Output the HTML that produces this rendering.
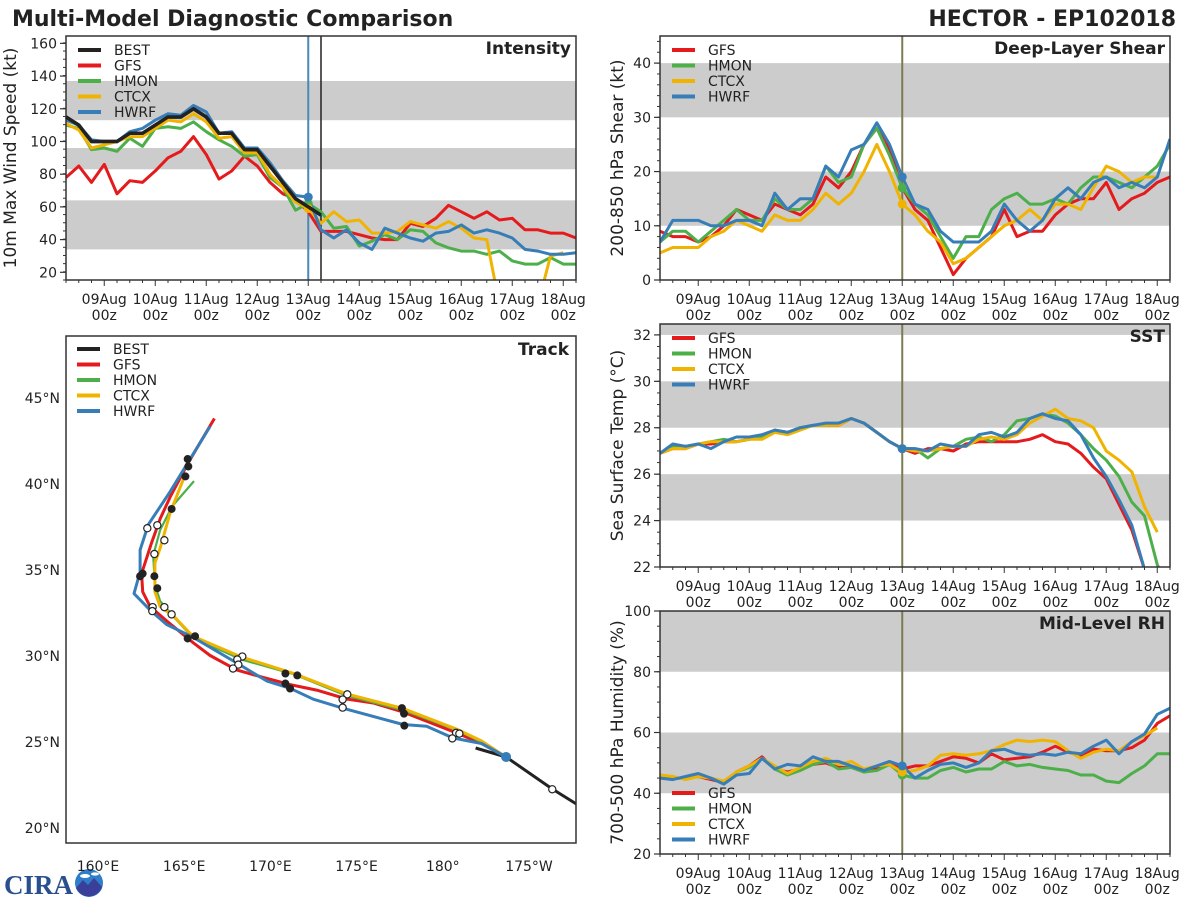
<!DOCTYPE html>
<html><head><meta charset="utf-8"><style>
html,body{margin:0;padding:0;background:#fff;}
svg{display:block;font-family:"DejaVu Sans","Liberation Sans",sans-serif;}
</style></head><body>
<svg id="chart" width="1200" height="900" viewBox="0 0 1200 900" xmlns="http://www.w3.org/2000/svg">
<rect x="0" y="0" width="1200" height="900" fill="#fff"/>
<text x="12" y="26" font-size="22" font-weight="bold" fill="#222">Multi-Model Diagnostic Comparison</text>
<text x="1176" y="26" font-size="22" font-weight="bold" fill="#222" text-anchor="end">HECTOR - EP102018</text>
<g>
<text x="4" y="894" font-size="27" font-weight="bold" fill="#2a4f8f" font-family="Liberation Serif, serif">CIRA</text>
<circle cx="89" cy="883" r="14" fill="#2f7ec9"/>
<path d="M76,888 L83,880 L88,885 L94,878 L102,887 A14,14 0 0 1 76,888 Z" fill="#3a3f9a"/>
<ellipse cx="85" cy="876" rx="5" ry="2" fill="#fff"/><ellipse cx="95" cy="874" rx="4" ry="1.6" fill="#fff"/>
</g>
</svg>
<script>
const dayLabels = ['09Aug','10Aug','11Aug','12Aug','13Aug','14Aug','15Aug','16Aug','17Aug','18Aug'];
const hourLabel = '00z';
const bestInt = [115,110,100,100,100,105,105,110,115,115,120,115,105,105,95,95,85,75,65,60,55];
const gfsInt = [78,85,75,86,68,76,75,82,90,94,103,92,77,82,91,85,75,68,65,57,45,45,45,43,41,40,40,50,48,53,61,57,53,57,52,53,46,46,44,44,41];
const hmonInt = [110,108,95,96,94,102,97,108,109,108,112,106,101,97,91,92,78,72,58,62,57,47,48,36,39,43,40,46,45,38,35,33,33,31,33,27,25,25,29,25,25];
const ctcxInt = [111,107,96,98,100,103,103,108,113,112,117,112,102,103,93,93,80,72,63,59,50,57,51,52,44,44,45,51,49,47,51,47,41,40,0,0,0,0,30,32];
const hwrfInt = [113,110,101,100,100,106,108,113,117,116,122,118,105,106,96,96,87,76,67,66,46,41,46,38,34,47,44,41,39,44,45,49,44,46,44,41,34,33,31,31,32];
const gfsShr = [9,8,8,7,8,10,13,12,11,14,13,12,14,19,17,20,25,28,24,17,13,11,6,1,4,6,8,13,8,9,9,12,14,15,15,18,13,15,16,18,19];
const hmonShr = [7,9,9,7,9,11,13,11,11,15,13,13,15,21,18,19,25,28,23,17,14,12,8,4,8,8,13,15,16,14,14,15,14,17,19,19,18,17,19,21,25];
const ctcxShr = [5,6,6,6,8,9,11,10,9,12,11,11,13,16,14,16,20,25,20,14,12,9,7,3,4,6,8,10,11,13,11,14,14,13,17,21,20,18,19,19];
const hwrfShr = [7,11,11,11,10,10,11,11,10,16,13,15,15,21,19,24,25,29,25,19,14,13,9,7,7,7,9,14,11,9,11,15,17,15,18,19,17,18,17,19,26];
const gfsSst = [26.9,27.1,27.1,27.3,27.3,27.4,27.4,27.5,27.6,27.9,27.8,28.0,28.1,28.1,28.1,28.4,28.2,27.8,27.4,27.1,26.9,27.1,27.1,27.0,27.3,27.4,27.4,27.4,27.4,27.5,27.7,27.4,27.3,26.9,26.3,25.8,24.7,23.6,21.9,20.5,19.0];
const hmonSst = [26.9,27.2,27.2,27.3,27.4,27.5,27.4,27.5,27.6,27.9,27.8,28.0,28.1,28.1,28.2,28.4,28.2,27.8,27.4,27.1,27.1,26.7,27.1,27.2,27.5,27.6,27.4,27.7,28.3,28.4,28.6,28.5,28.2,27.7,27.1,26.6,25.9,24.8,24.2,22.1,21.0];
const ctcxSst = [26.9,27.1,27.1,27.3,27.4,27.4,27.4,27.5,27.5,27.8,27.7,27.9,28.1,28.1,28.1,28.4,28.2,27.8,27.4,27.1,27.0,27.0,27.1,27.2,27.2,27.5,27.6,27.5,27.7,28.2,28.5,28.8,28.4,28.3,28.0,27.0,26.6,26.1,24.6,23.5];
const hwrfSst = [26.9,27.3,27.2,27.3,27.1,27.4,27.6,27.6,27.7,27.9,27.8,28.0,28.1,28.2,28.2,28.4,28.2,27.8,27.4,27.1,27.1,27.0,27.3,27.2,27.2,27.7,27.8,27.6,27.8,28.4,28.6,28.4,28.3,27.7,26.7,25.9,24.9,23.8,21.9,20.5,19.0];
const gfsRh = [46,45,45,45.5,44.5,43.5,47,49,52,48,47,48,49.5,50,48.5,48.5,47,48,49.5,48,49,49,50.5,52,51.5,50,53,51,51.5,52,53.5,55.5,53.5,52.5,54.5,54,54,55,57.5,63,65.5];
const hmonRh = [45.5,45,45,45.5,45,43.5,47,48.5,51.5,48,46,47.5,49.5,50.5,48,48.5,47,47.5,49.5,46,45,45,47.5,48.5,47,48,48,50.5,49,49.5,48.5,48,47.5,46,46,44,43.5,46.5,49,53,53];
const ctcxRh = [46,45.5,44.5,45.5,45,44,47,49,51.5,49,46.5,48.5,50.5,51.5,49.5,50.5,48,49,49.5,47,47.5,49,52.5,53,52.5,53,54,56,57.5,57,57.5,57,54,51.5,53.5,54.5,54,57,59,61.5];
const hwrfRh = [45,44.5,45.5,46.5,45,43,46,46.5,51.5,48,49.5,49,52,50.5,50.5,49,47.5,49,50.5,49,45,47.5,49.5,50,48.5,50,54,54.5,53,52.5,53,52.5,53.5,53,55.5,57.5,53,57,59.5,66,68];
const intTicks = [20,40,60,80,100,120,140,160];
const shrTicks = [0,10,20,30,40];
const sstTicks = [22,24,26,28,30,32];
const rhTicks = [20,40,60,80,100];
const intBands = [[34,64],[83,96],[113,137]];
const shrBands = [[10,20],[30,40]];
const sstBands = [[24,26],[28,30],[32,34]];
const rhBands = [[40,60],[80,100]];
// track (lon in degrees east, lat in degrees north)
const bestLon = [181.9,183.67,186.35,187.9];
const bestLat = [24.65,24.13,22.27,21.3];
const gfsLon = [183.67,182.25,180.9,177.71,175.97,174.42,172.68,171.14,169.59,168.04,166.5,165.53,163.98,163.02,162.59,162.53,163.11,163.6,164.18,165.24,166.75];
const gfsLat = [24.13,24.91,25.49,26.74,27.27,27.5,28.02,28.34,28.75,29.19,30.03,30.77,32.04,32.88,33.73,34.79,36.59,37.97,39.24,41.24,43.81];
const hmonLon = [183.67,182.25,180.8,177.7,174.4,171.3,168.3,165.5,164.4,163.6,163.3,163.2,163.6,164.3,165.57];
const hmonLat = [24.13,25.0,25.7,26.85,27.7,28.96,29.8,31.07,32.26,33.2,34.16,35.84,37.32,38.7,40.17];
const ctcxLon = [183.67,182.25,180.8,177.7,174.4,171.3,168.3,166.88,165.5,164.4,163.6,163.3,163.3,163.6,164.2,164.96];
const ctcxLat = [24.13,25.06,25.75,26.95,27.8,29.0,29.95,30.56,31.15,32.3,32.88,33.73,35.41,36.26,38.37,40.29];
const hwrfLon = [183.67,182.25,180.6,179.06,177.7,174.23,172.49,171.14,169.78,168.04,165.53,163.98,163.02,162.09,162.44,162.44,162.92,164.18,166.5];
const hwrfLat = [24.13,24.91,25.23,25.91,26.02,26.96,27.49,28.12,28.55,29.6,31.08,31.83,32.67,33.63,34.89,36.16,37.64,39.55,43.35];
const fullLon = [165.2,165.24,165.07,164.27,162.44,162.59,163.27,163.44,165.2,165.63,170.87,171.56,170.87,171.14,177.63,177.75,177.77];
const fullLat = [41.45,41.02,40.44,38.55,34.64,34.79,34.64,33.94,31.02,31.15,28.98,28.87,28.4,28.11,26.97,26.65,25.95];
const openLon = [162.86,163.44,163.85,163.27,163.17,163.85,163.15,164.27,168.37,168.08,168.14,167.83,174.46,174.19,174.19,180.77,180.96,180.55,186.35];
const openLat = [37.43,37.6,36.73,35.93,32.84,32.84,32.61,32.42,29.97,29.8,29.5,29.27,27.77,27.47,27.0,25.53,25.49,25.21,22.25];
const latTicks = [20,25,30,35,40,45];
const lonTicks = [160,165,170,175,180,185];
const lonTickLabels = ['160°E','165°E','170°E','175°E','180°','175°W'];

const NS='http://www.w3.org/2000/svg';
const svg=document.getElementById('chart');
const COL={BEST:'#222222',GFS:'#e41a1c',HMON:'#4daf4a',CTCX:'#f0b400',HWRF:'#377eb8'};
function mk(tag,attrs,parent,text){const e=document.createElementNS(NS,tag);for(const k in attrs)e.setAttribute(k,attrs[k]);if(text!==undefined)e.textContent=text;(parent||svg).appendChild(e);return e;}

function panel(P){
  const g=mk('g',{});
  
  
  const cp=mk('clipPath',{id:'clip-'+P.name},g);
  mk('rect',{x:P.x0,y:P.y0,width:P.x1-P.x0,height:P.y1-P.y0},cp);
  const X=i=>P.x0+i*(P.x1-P.x0)/40;
  const Y=v=>P.y1-(v-P.vmin)*(P.y1-P.y0)/(P.vmax-P.vmin);
  const cg=mk('g',{'clip-path':'url(#clip-'+P.name+')'},g);
  P.bands.forEach((b,k)=>{
    const r=mk('rect',{x:P.x0,y:Y(b[1]),width:P.x1-P.x0,height:Y(b[0])-Y(b[1]),fill:'#cccccc'},cg);
    
    
  });
  // vertical lines
  const vl=mk('line',{x1:X(19),x2:X(19),y1:P.y0,y2:P.y1,stroke:P.vcol,'stroke-width':2},cg);
  
  
  if(P.name==='intensity'){
    const bl=mk('line',{x1:X(20),x2:X(20),y1:P.y0,y2:P.y1,stroke:'#222','stroke-width':1.5},cg);
    
    
  }
  P.series.forEach(s=>{
    const pts=s.data.map((v,i)=>X(i).toFixed(1)+','+Y(v).toFixed(1)).join(' ');
    const pl=mk('polyline',{points:pts,fill:'none',stroke:COL[s.key],'stroke-width':s.key==='BEST'?3.5:3,'stroke-linejoin':'round'},cg);
    
    
  });
  P.series.forEach(s=>{
    if(s.key==='BEST'||s.key==='GFS'||s.data.length<20)return;
    const c=mk('circle',{cx:X(19),cy:Y(s.data[19]),r:4.5,fill:COL[s.key]},cg);
    
    
  });
  // frame
  const fr=mk('rect',{x:P.x0,y:P.y0,width:P.x1-P.x0,height:P.y1-P.y0,fill:'none',stroke:'#333','stroke-width':1.5},g);
  
  
  // y ticks
  for(let v=P.vmin;v<=P.vmax+1e-6;v+=P.minor){
    const yy=Y(v); if(yy<P.y0-0.5)continue;
    mk('line',{x1:P.x0-3,x2:P.x0,y1:yy,y2:yy,stroke:'#333','stroke-width':1},g);
  }
  P.ticks.forEach(v=>{
    const yy=Y(v);
    mk('line',{x1:P.x0-6,x2:P.x0,y1:yy,y2:yy,stroke:'#333','stroke-width':1.2},g);
    const t=mk('text',{x:P.x0-9,y:yy+5,'font-size':14,'text-anchor':'end',fill:'#222'},g,String(v));
    
    
  });
  // x ticks
  for(let i=0;i<=40;i++){
    const major=(i-3)%4===0;
    mk('line',{x1:X(i),x2:X(i),y1:P.y1,y2:P.y1+(major?6:3),stroke:'#333','stroke-width':1},g);
  }
  dayLabels.forEach((d,k)=>{
    const xx=X(3+4*k);
    const t1=mk('text',{x:xx,y:P.y1+24,'font-size':14,'text-anchor':'middle',fill:'#222'},g,d);
    
    
    const t2=mk('text',{x:xx,y:P.y1+40,'font-size':14,'text-anchor':'middle',fill:'#222'},g,hourLabel);
    
    
  });
  const cy=(P.y0+P.y1)/2;
  const yl=mk('text',{x:0,y:0,'font-size':17,'text-anchor':'middle',fill:'#222',transform:'translate('+P.ylx+','+cy+') rotate(-90)'},g,P.ylabel);
  
  
  const pt=mk('text',{x:P.x1-5,y:P.y0+18,'font-size':17,'font-weight':'bold','text-anchor':'end',fill:'#222'},g,P.title);
  
  
  legend(g,P.name,P.series.map(s=>s.key),P.x0+12,P.legY);
}
function legend(g,name,keys,x,y0){
  const lg=mk('g',{},g);
  
  
  keys.forEach((k,j)=>{
    const yy=y0+j*15.5;
    const e=mk('g',{},lg);
    
    
    mk('line',{x1:x,x2:x+23,y1:yy,y2:yy,stroke:COL[k],'stroke-width':4},e);
    mk('text',{x:x+36,y:yy+5,'font-size':14,fill:'#222'},e,k);
  });
}
panel({name:'intensity',x0:66,x1:576,y0:36,y1:280,vmin:15.3,vmax:164.5,minor:5,ticks:intTicks,bands:intBands,vcol:'#4a88b8',ylx:16,ylabel:'10m Max Wind Speed (kt)',title:'Intensity',legY:50,
 series:[{key:'BEST',data:bestInt},{key:'GFS',data:gfsInt},{key:'HMON',data:hmonInt},{key:'CTCX',data:ctcxInt},{key:'HWRF',data:hwrfInt}]});
// draw BEST on top in intensity
(function(){const P={x0:66,x1:576,y0:36,y1:280,vmin:15.3,vmax:164.5};
 const X=i=>P.x0+i*(P.x1-P.x0)/40;const Y=v=>P.y1-(v-P.vmin)*(P.y1-P.y0)/(P.vmax-P.vmin);
 const pl=mk('polyline',{points:bestInt.map((v,i)=>X(i)+','+Y(v)).join(' '),fill:'none',stroke:'#222','stroke-width':3.5,'stroke-linejoin':'round'});
 
 
})();
panel({name:'shear',x0:660,x1:1170,y0:36,y1:280,vmin:0,vmax:45,minor:2,ticks:shrTicks,bands:shrBands,vcol:'#7d7a52',ylx:623,ylabel:'200-850 hPa Shear (kt)',title:'Deep-Layer Shear',legY:50,
 series:[{key:'GFS',data:gfsShr},{key:'HMON',data:hmonShr},{key:'CTCX',data:ctcxShr},{key:'HWRF',data:hwrfShr}]});
panel({name:'sst',x0:660,x1:1170,y0:324,y1:567,vmin:22,vmax:32.47,minor:0.5,ticks:sstTicks,bands:sstBands,vcol:'#7d7a52',ylx:623,ylabel:'Sea Surface Temp (°C)',title:'SST',legY:338,
 series:[{key:'GFS',data:gfsSst},{key:'HMON',data:hmonSst},{key:'CTCX',data:ctcxSst},{key:'HWRF',data:hwrfSst}]});
panel({name:'rh',x0:660,x1:1170,y0:611,y1:854,vmin:20,vmax:100,minor:5,ticks:rhTicks,bands:rhBands,vcol:'#7d7a52',ylx:623,ylabel:'700-500 hPa Humidity (%)',title:'Mid-Level RH',legY:793,
 series:[{key:'GFS',data:gfsRh},{key:'HMON',data:hmonRh},{key:'CTCX',data:ctcxRh},{key:'HWRF',data:hwrfRh}]});

// track panel
(function(){
  const T={x0:66,x1:576,y0:336,y1:843};
  const LX=lon=>98+(lon-160)*17.24;
  const LY=lat=>828-(lat-20)*17.2;
  const g=mk('g',{});
  
  
  const cp=mk('clipPath',{id:'clip-track'},g);
  mk('rect',{x:T.x0,y:T.y0,width:T.x1-T.x0,height:T.y1-T.y0},cp);
  const cg=mk('g',{'clip-path':'url(#clip-track)'},g);
  const tracks=[['BEST',bestLon,bestLat],['GFS',gfsLon,gfsLat],['HMON',hmonLon,hmonLat],['CTCX',ctcxLon,ctcxLat],['HWRF',hwrfLon,hwrfLat]];
  tracks.forEach(t=>{
    const pts=t[1].map((lon,i)=>LX(lon).toFixed(1)+','+LY(t[2][i]).toFixed(1)).join(' ');
    const pl=mk('polyline',{points:pts,fill:'none',stroke:COL[t[0]],'stroke-width':t[0]==='HMON'?2.2:3,'stroke-linejoin':'round'},cg);
    
    
  });
  fullLon.forEach((lon,i)=>{
    const c=mk('circle',{cx:LX(lon),cy:LY(fullLat[i]),r:4,fill:'#222'},cg);
    
    
  });
  openLon.forEach((lon,i)=>{
    const c=mk('circle',{cx:LX(lon),cy:LY(openLat[i]),r:3.6,fill:'#fff',stroke:'#222','stroke-width':1.2},cg);
    
    
  });
  const sp=mk('circle',{cx:LX(gfsLon[0]),cy:LY(gfsLat[0]),r:5,fill:COL.HWRF},cg);
  
  
  const fr=mk('rect',{x:T.x0,y:T.y0,width:T.x1-T.x0,height:T.y1-T.y0,fill:'none',stroke:'#333','stroke-width':1.5},g);
  
  
  latTicks.forEach(l=>{
    const t=mk('text',{x:60,y:LY(l)+5,'font-size':14,'text-anchor':'end',fill:'#222'},g,l+'°N');
    
    
  });
  lonTicks.forEach((l,k)=>{
    const t=mk('text',{x:LX(l),y:871,'font-size':14,'text-anchor':'middle',fill:'#222'},g,lonTickLabels[k]);
    
    
  });
  const pt=mk('text',{x:T.x1-7,y:T.y0+19,'font-size':17,'font-weight':'bold','text-anchor':'end',fill:'#222'},g,'Track');
  
  
  legend(g,'track',['BEST','GFS','HMON','CTCX','HWRF'],T.x0+11,349);
})();
</script>
</body></html>
